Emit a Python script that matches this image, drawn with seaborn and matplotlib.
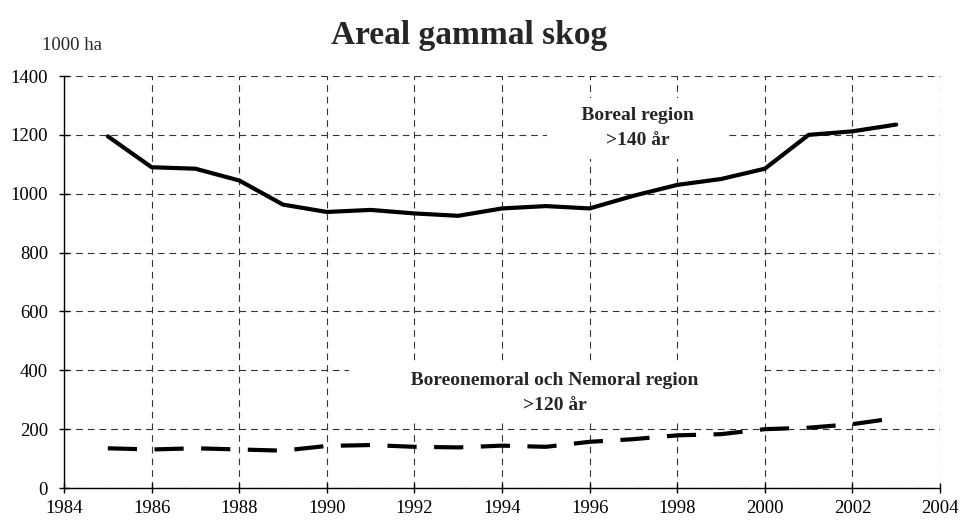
import pandas as pd
import seaborn as sns
import matplotlib.pyplot as plt

# Values (1000 ha)
years = list(range(1985, 2004))
boreal = [1195, 1090, 1085, 1045, 963, 938, 945, 933, 925, 950,
          958, 950, 993, 1030, 1050, 1085, 1200, 1212, 1235]
nemoral = [135, 131, 135, 131, 127, 143, 146, 140, 138, 144,
           140, 157, 166, 179, 183, 200, 205, 217, 238]

x_ticks = list(range(1984, 2005, 2))
y_ticks = list(range(0, 1401, 200))

df = pd.DataFrame({'year': years, 'boreal': boreal, 'nemoral': nemoral})

sns.set_style('white')
plt.rcParams['font.family'] = ['Liberation Serif', 'DejaVu Serif']

fig = plt.figure(figsize=(9.6, 5.26), dpi=100)
ax = fig.add_axes([0.0667, 0.0722, 0.9125, 0.7833])

sns.lineplot(x='year', y='boreal', data=df, color='black', linewidth=3, ax=ax)
sns.lineplot(x='year', y='nemoral', data=df, color='black', linewidth=3, ax=ax)
ax.lines[-1].set_dashes((7, 4.2))

ax.set_xlim(1984, 2004)
ax.set_ylim(0, 1400)
ax.set_xticks(x_ticks)
ax.set_yticks(y_ticks)
ax.set_xlabel('')
ax.set_ylabel('')
ax.grid(True, color='#333333', linestyle=(0, (6, 4.5)), linewidth=0.8)
ax.set_axisbelow(True)
for side in ['top', 'right']:
    ax.spines[side].set_visible(False)
for side in ['left', 'bottom']:
    ax.spines[side].set_color('black')
    ax.spines[side].set_linewidth(1)
ax.tick_params(direction='inout', length=7, width=1, colors='black',
               labelsize=13.5, left=True, bottom=True)
ax.tick_params(axis='x', pad=5)
ax.tick_params(axis='y', pad=8)

# Labels with white boxes hiding the grid (spaces widen the box)
sp = '\u00a0'
ax.text(1997.1, 1222, sp * 5 + 'Boreal region' + sp * 5 + '\n>140 år',
        ha='center', va='center', multialignment='center',
        fontsize=14, fontweight='bold', linespacing=1.6,
        bbox=dict(facecolor='white', edgecolor='none', boxstyle='square,pad=0.5'))
ax.text(1995.2, 322, sp * 11 + 'Boreonemoral och Nemoral region' + sp * 11 + '\n>120 år',
        ha='center', va='center', multialignment='center',
        fontsize=14, fontweight='bold', linespacing=1.6,
        bbox=dict(facecolor='white', edgecolor='none', boxstyle='square,pad=0.4'))

fig.text(0.489, 0.933, 'Areal gammal skog', ha='center', va='center',
         fontsize=24, fontweight='bold')
fig.text(0.044, 0.913, '1000 ha', ha='left', va='center', fontsize=13.5)

plt.savefig('out.png', dpi=100)
